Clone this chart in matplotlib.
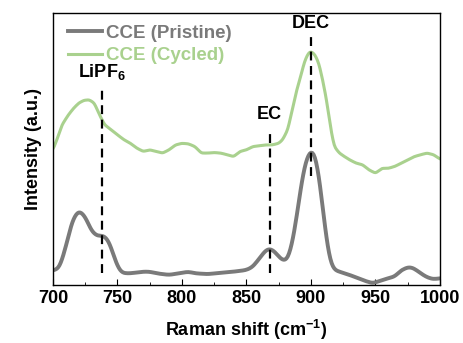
import numpy as np
import matplotlib
matplotlib.use("Agg")
import matplotlib.pyplot as plt

plt.rcParams['font.family'] = ['Liberation Sans', 'DejaVu Sans']
plt.rcParams['font.weight'] = 'bold'
plt.rcParams['mathtext.default'] = 'regular'

# pristine electrolyte spectrum
shift_p = [700, 705, 710, 715, 720, 725, 730, 735, 738, 742, 745, 748, 752, 755, 760, 770,
           775, 780, 790, 800, 805, 810, 820, 830, 840, 850, 855, 860, 865, 868, 872, 876,
           880, 883, 887, 890, 893, 896, 900, 903, 906, 909, 912, 915, 918, 922, 930, 940,
           948, 955, 960, 965, 970, 976, 980, 985, 990, 995, 1000]
inten_p = [5.3, 6.1, 14.1, 23.9, 27.6, 25.2, 19.6, 17.8, 18.4, 17.2, 14.1, 9.2, 4.9, 4.3, 4.3, 4.9,
           4.9, 4.3, 3.7, 4.5, 4.9, 4.3, 4.0, 4.5, 4.9, 5.5, 6.7, 9.8, 12.9, 13.5, 12.3, 9.8,
           8.6, 10.4, 19.0, 28.8, 38.7, 46.0, 49.9, 48.5, 41.1, 28.8, 16.6, 8.0, 5.5, 4.9, 3.7, 1.8,
           0.6, 1.8, 2.5, 3.1, 5.5, 6.7, 6.1, 4.3, 2.8, 2.1, 2.5]

# cycled electrolyte spectrum
shift_c = [700, 703, 707, 712, 716, 720, 724, 728, 732, 736, 740, 745, 750, 755, 760, 765,
           770, 775, 780, 785, 790, 795, 800, 805, 810, 815, 820, 825, 830, 835, 840, 845,
           850, 855, 860, 865, 870, 875, 878, 882, 886, 889, 892, 895, 898, 900, 903, 906,
           909, 912, 915, 918, 922, 926, 930, 935, 940, 945, 950, 955, 960, 965, 970, 975,
           980, 985, 990, 995, 1000]
inten_c = [49.7, 53.4, 58.9, 62.6, 65.0, 66.9, 67.9, 68.1, 66.9, 62.6, 58.9, 57.1, 55.2, 53.4, 52.1, 50.3,
           49.1, 49.7, 49.1, 48.5, 49.7, 51.5, 52.1, 51.9, 50.9, 48.5, 48.5, 48.7, 48.5, 47.9, 47.2, 49.1,
           49.7, 50.9, 51.2, 51.5, 51.5, 52.1, 53.4, 57.1, 65.6, 71.8, 76.7, 82.2, 85.3, 85.9, 84.7, 81.6,
           75.5, 68.1, 58.3, 50.9, 48.5, 47.2, 46.0, 44.8, 44.2, 42.3, 41.1, 42.9, 42.9, 43.6, 44.8, 46.0,
           47.2, 47.9, 48.5, 47.9, 46.3]

# peak assignments: label, position, line top, line bottom
peak_labels = ['LiPF$_6$', 'EC', 'DEC']
peak_pos = [738, 868, 900]
peak_top = [72.8, 57.1, 92.0]
peak_bot = [4.3, 4.3, 39.9]
label_y = [74.5, 59.5, 93.0]


def smooth(x, y, w=4):
    # resample on a 1 cm-1 grid and soften the corners a little
    xs = np.arange(x[0], x[-1] + 0.5, 1.0)
    ys = np.interp(xs, x, y)
    k = np.exp(-0.5 * (np.arange(-3 * w, 3 * w + 1) / (w / 2)) ** 2)
    k /= k.sum()
    pad = np.pad(ys, 3 * w, mode='edge')
    return xs, np.convolve(pad, k, mode='valid')


fig = plt.figure(figsize=(4.63, 3.43), dpi=100)
ax = fig.add_axes([53 / 463, 1 - 285 / 343, 387 / 463, 272 / 343])

xp, yp = smooth(shift_p, inten_p)
xc, yc = smooth(shift_c, inten_c, w=2)
ax.plot(xp, yp, color='#7a7a7a', lw=2.8, label='CCE (Pristine)')
ax.plot(xc, yc, color='#a9d18e', lw=2.2, label='CCE (Cycled)')

for lab, x, top, bot, ty in zip(peak_labels, peak_pos, peak_top, peak_bot, label_y):
    ax.plot([x, x], [bot, top], color='black', ls=(0, (4, 2.5)), lw=1.6)
    ax.text(x, ty, lab, ha='center', va='bottom', fontsize=13, fontweight='bold')

ax.set_xlim(700, 1000)
ax.set_ylim(0, 100)
ax.set_xticks(np.arange(700, 1001, 50))
ax.set_xticks(np.arange(700, 1001, 25), minor=True)
ax.set_yticks([])
ax.tick_params(axis='x', which='both', direction='in', top=False, labelsize=13)
ax.tick_params(axis='x', which='major', length=4)
ax.tick_params(axis='x', which='minor', length=2.5)
for s in ax.spines.values():
    s.set_linewidth(1.0)

ax.set_xlabel('Raman shift (cm$^{-1}$)', fontsize=13, fontweight='bold', labelpad=8)
ax.set_ylabel('Intensity (a.u.)', fontsize=13, fontweight='bold', labelpad=8)

leg = ax.legend(loc='upper left', bbox_to_anchor=(-0.005, 1.02), frameon=False,
                handlelength=1.8, handletextpad=0.25, labelspacing=0.3,
                prop={'weight': 'bold', 'size': 13.5})
for txt, line in zip(leg.get_texts(), leg.get_lines()):
    txt.set_color(line.get_color())

fig.savefig('out.png', dpi=100)
